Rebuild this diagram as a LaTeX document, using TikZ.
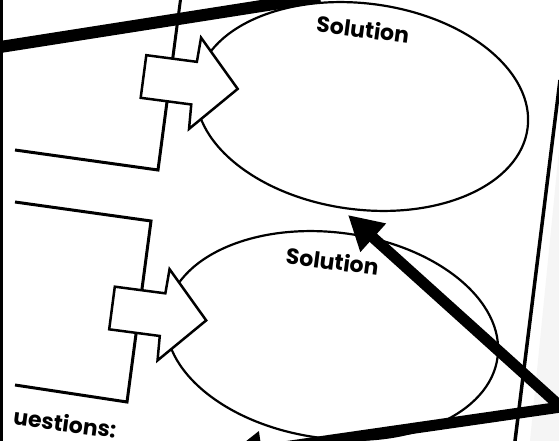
\documentclass[tikz,border=0pt]{standalone}
\usepackage{fontspec}
\newfontfamily\popfont{Poppins}
\usetikzlibrary{arrows.meta,shapes.geometric}
\begin{document}
\begin{tikzpicture}[x=1pt,y=-1pt,
  thinline/.style={line width=3pt, line join=miter},
  pageline/.style={line width=3.5pt},
  ellipseshape/.style={draw, ellipse, line width=2.2pt, minimum width=334pt, minimum height=206pt, inner sep=0pt, rotate=-7.5},
  blockarrow/.style={draw, fill=white, line width=2.5pt, line join=miter},
  heading/.style={font=\popfont\bfseries\fontsize{22}{24}\selectfont, inner sep=0pt, rotate=-7.5},
  bigline/.style={line width=11pt, line join=miter},
  bighead/.tip={Triangle[length=34pt,width=36pt]}
]
\useasboundingbox (0,0) rectangle (559,441);
\fill[white] (0,0) rectangle (559,441);
\clip (0,0) rectangle (559,441);

% faint page shadow on the right
\fill[black!4] (559,150) -- (530,441) -- (559,441) -- cycle;

% left border
\draw[pageline] (1.6,-5) -- (1.6,446);

% right page line
\coordinate (rp1) at (560,80);
\coordinate (rp2) at (512,465);
\draw[pageline] (rp1) -- (rp2);

% box outlines
\coordinate (b1a) at (15,150);
\coordinate (b1b) at (158,170);
\coordinate (b1c) at (181.5,-8);
\draw[thinline] (b1a) -- (b1b) -- (b1c);
\coordinate (b2a) at (15,202);
\coordinate (b2b) at (151,221);
\coordinate (b2c) at (127,402);
\coordinate (b2d) at (15,385);
\draw[thinline] (b2a) -- (b2b) -- (b2c) -- (b2d);

% solution ellipses
\node[ellipseshape] (sol1) at (362,106.5) {};
\node[ellipseshape] (sol2) at (332,335.5) {};

% block arrows
\begin{scope}[shift={(143.5,76.5)}, rotate=-7.5]
  \draw[blockarrow] (0,-21.5) -- (51,-21.5) -- (52,-46) -- (95,0) -- (52,46) -- (51,21.5) -- (0,21.5) -- cycle;
\end{scope}
\begin{scope}[shift={(112,308)}, rotate=-7.5]
  \draw[blockarrow] (0,-21.5) -- (51,-21.5) -- (52,-46) -- (95,0) -- (52,46) -- (51,21.5) -- (0,21.5) -- cycle;
\end{scope}

% texts
\node[heading] (lab1) at (363,29) {Solution};
\node[heading] (lab2) at (332.5,261) {Solution};
\node[heading] (quest) at (65,423) {uestions:};

% thick annotation lines
\coordinate (tl1) at (-10,48.6);
\coordinate (tl2) at (320,-3.2);
\draw[line width=12pt] (tl1) -- (tl2);

\coordinate (corner) at (561,407);
\coordinate (tipup) at (348,215);
\coordinate (tipdown) at (228,455);
\draw[bigline, {bighead}-{bighead}] (tipdown) -- (corner) -- (tipup);
\end{tikzpicture}
\end{document}
